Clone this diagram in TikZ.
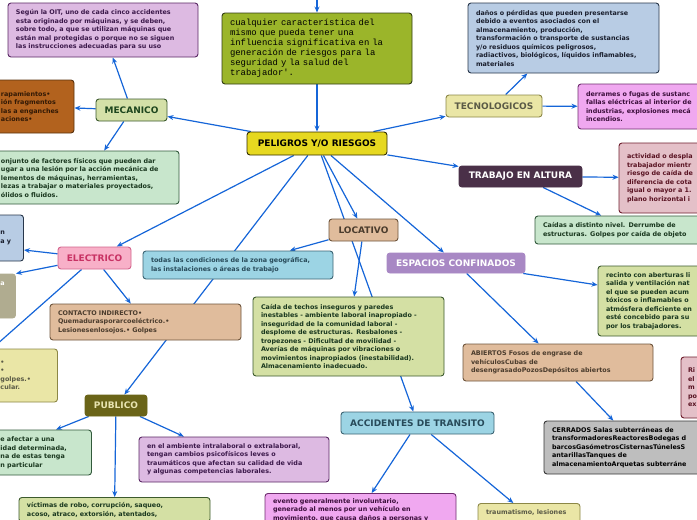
\documentclass[tikz,border=0pt]{standalone}
\usepackage{fontspec}
\setmainfont{DejaVu Sans}
\setmonofont{Liberation Mono}
\usepackage{tikz}
\usetikzlibrary{backgrounds,arrows.meta}
\definecolor{linkblue}{RGB}{21,101,216}
\definecolor{oitfill}{RGB}{221,186,226}
\definecolor{oitdraw}{RGB}{90,40,100}
\definecolor{oittext}{RGB}{60,25,75}
\definecolor{olivefill}{RGB}{155,181,42}
\definecolor{olivedraw}{RGB}{50,60,20}
\definecolor{brownfill}{RGB}{178,98,30}
\definecolor{browndraw}{RGB}{90,50,15}
\definecolor{browntext}{RGB}{50,25,5}
\definecolor{mecfill}{RGB}{212,224,168}
\definecolor{mecdraw}{RGB}{60,90,45}
\definecolor{mectext}{RGB}{30,70,30}
\definecolor{mintfill}{RGB}{200,230,204}
\definecolor{mintdraw}{RGB}{50,90,60}
\definecolor{minttext}{RGB}{25,55,30}
\definecolor{pelfill}{RGB}{230,216,32}
\definecolor{peldraw}{RGB}{50,45,0}
\definecolor{bluefill}{RGB}{184,204,228}
\definecolor{bluedraw}{RGB}{40,55,75}
\definecolor{bluetext}{RGB}{25,30,45}
\definecolor{tecfill}{RGB}{234,230,166}
\definecolor{tecdraw}{RGB}{140,135,70}
\definecolor{tectext}{RGB}{90,90,70}
\definecolor{pinkfill}{RGB}{240,168,240}
\definecolor{pinkdraw}{RGB}{110,45,110}
\definecolor{pinktext}{RGB}{60,15,60}
\definecolor{altfill}{RGB}{74,48,72}
\definecolor{rosefill}{RGB}{228,192,200}
\definecolor{rosedraw}{RGB}{110,30,45}
\definecolor{rosetext}{RGB}{90,20,35}
\definecolor{grayfill}{RGB}{176,172,144}
\definecolor{elefill}{RGB}{248,176,200}
\definecolor{eledraw}{RGB}{210,100,140}
\definecolor{eletext}{RGB}{200,50,100}
\definecolor{tanfill}{RGB}{224,188,156}
\definecolor{tandraw}{RGB}{110,85,60}
\definecolor{tantext}{RGB}{75,60,45}
\definecolor{skyfill}{RGB}{156,212,228}
\definecolor{skydraw}{RGB}{60,100,115}
\definecolor{skytext}{RGB}{40,75,90}
\definecolor{sagefill}{RGB}{212,224,164}
\definecolor{purpfill}{RGB}{168,136,196}
\definecolor{cerrfill}{RGB}{190,190,190}
\definecolor{cerrdraw}{RGB}{55,55,55}
\definecolor{pubfill}{RGB}{106,100,24}
\definecolor{pubtext}{RGB}{232,228,176}

\begin{document}
\begin{tikzpicture}[x=1pt,y=-1pt,>={Stealth[length=6pt,width=5pt]}]
	\tikzstyle{box}=[draw,rounded corners=3pt,line width=0.9pt,align=left,inner xsep=8pt,inner ysep=3pt,font=\bfseries\fontsize{6.4}{8.5}\selectfont];
	\tikzstyle{topic}=[draw,rounded corners=3pt,line width=0.9pt,inner sep=0pt,font=\bfseries\fontsize{9}{10}\selectfont];
	\tikzstyle{link}=[->,line width=1.2pt,linkblue];
	\useasboundingbox (0,0) rectangle (697,520);
	\node[topic,fill=pelfill,draw=peldraw,minimum width=140pt,minimum height=23pt] (peligros) at (317,143.5) {PELIGROS Y/O RIESGOS};
	\node[box,fill=olivefill,draw=olivedraw,text width=174pt,minimum height=71pt,font=\ttfamily\fontsize{8.9}{10}\selectfont] (olive) at (317,48.5) {cualquier característica del\\mismo que pueda tener una\\influencia significativa en la\\generación de riesgos para la\\seguridad y la salud del\\trabajador'.};
	\coordinate (topin) at (317,-5);
	\node[topic,fill=mecfill,draw=mecdraw,text=mectext,minimum width=71pt,minimum height=22pt] (mecanico) at (131.5,110) {MECANICO};
	\node[box,fill=oitfill,draw=oitdraw,text=oittext,text width=174pt,minimum height=54pt] (oit) at (103,30) {Según la OIT, uno de cada cinco accidentes\\esta originado por máquinas, y se deben,\\sobre todo, a que se utilizan máquinas que\\están mal protegidas o porque no se siguen\\las instrucciones adecuadas para su uso};
	\node[box,fill=brownfill,draw=browndraw,text=browntext,text width=65pt,minimum height=53pt] (brownL) at (33.5,106.5) {rapamientos•\\ión fragmentos\\las a enganches\\aciones•};
	\node[box,fill=mintfill,draw=mintdraw,text=minttext,text width=170pt,minimum height=53pt] (conjunto) at (86,177.5) {onjunto de factores físicos que pueden dar\\ugar a una lesión por la acción mecánica de\\lementos de máquinas, herramientas,\\lezas a trabajar o materiales proyectados,\\ólidos o fluidos.};
	\node[topic,fill=tecfill,draw=tecdraw,text=tectext,minimum width=96pt,minimum height=22pt] (tecno) at (494,106) {TECNOLOGICOS};
	\node[box,fill=bluefill,draw=bluedraw,text=bluetext,text width=175pt,minimum height=70pt] (danos) at (563.5,38) {daños o pérdidas que pueden presentarse\\debido a eventos asociados con el\\almacenamiento, producción,\\transformación o transporte de sustancias\\y/o residuos químicos peligrosos,\\radiactivos, biológicos, líquidos inflamables,\\materiales};
	\node[box,fill=pinkfill,draw=pinkdraw,text=pinktext,text width=175pt,minimum height=45pt] (derrames) at (673.5,106.5) {derrames o fugas de sustanc\\fallas eléctricas al interior de\\industrias, explosiones mecá\\incendios.};
	\node[topic,fill=altfill,draw=altfill,text=white,minimum width=123pt,minimum height=21pt] (altura) at (520.5,176.5) {TRABAJO EN ALTURA};
	\node[box,fill=rosefill,draw=rosedraw,text=rosetext,text width=174pt,minimum height=70pt] (actividad) at (714,178) {actividad o despla\\trabajador mientr\\riesgo de caída de\\diferencia de cota\\igual o mayor a 1.\\plano horizontal i};
	\node[box,fill=mintfill,draw=mintdraw,text=minttext,text width=176pt,minimum height=28pt] (caidas) at (631,230) {Caídas a distinto nivel. Derrumbe de\\estructuras. Golpes por caída de objeto};
	\node[topic,fill=elefill,draw=eledraw,text=eletext,minimum width=73pt,minimum height=22pt] (electrico) at (94.5,258) {ELECTRICO};
	\node[box,fill=bluefill,draw=bluedraw,text=bluetext,text width=15pt,minimum height=46pt] (blueL) at (8,238) {n\\a y};
	\node[box,fill=grayfill,draw=grayfill,text=white,text width=7pt,minimum height=44pt] (grayL) at (4,296) {a\\~\\~\\~};
	\node[box,fill=tecfill,draw=tecdraw,text=tectext,text width=49pt,minimum height=53pt] (yellowL) at (25,375.5) {•\\•\\golpes.•\\cular.};
	\node[box,fill=tanfill,draw=tandraw,text=tantext,text width=175pt,minimum height=36pt] (contacto) at (145.5,322) {CONTACTO INDIRECTO•\\Quemadurasporarcoeléctrico.•\\Lesionesenlosojos.• Golpes};
	\node[topic,fill=tanfill,draw=tandraw,text=tantext,minimum width=69pt,minimum height=22pt] (locativo) at (363.5,230) {LOCATIVO};
	\node[box,fill=skyfill,draw=skydraw,text=skytext,text width=174pt,minimum height=28pt] (todas) at (238,265) {todas las condiciones de la zona geográfica,\\las instalaciones o áreas de trabajo};
	\node[box,fill=sagefill,draw=mecdraw,text=minttext,text width=175pt,minimum height=79pt] (calda) at (348.5,336.5) {Caída de techos inseguros y paredes\\inestables - ambiente laboral inapropiado -\\inseguridad de la comunidad laboral -\\desplome de estructuras. Resbalones -\\tropezones - Dificultad de movilidad -\\Averías de máquinas por vibraciones o\\movimientos inapropiados (inestabilidad).\\Almacenamiento inadecuado.};
	\node[topic,fill=purpfill,draw=purpfill,text=white,minimum width=138pt,minimum height=20pt] (espacios) at (456,263) {ESPACIOS CONFINADOS};
	\node[box,fill=sagefill,draw=mecdraw,text=minttext,text width=190pt,minimum height=70pt] (recinto) at (701,301) {recinto con aberturas li\\salida y ventilación nat\\el que se pueden acum\\tóxicos o inflamables o\\atmósfera deficiente en\\esté concebido para su\\por los trabajadores.};
	\node[box,fill=tanfill,draw=tandraw,text=tantext,text width=174pt,minimum height=37pt] (abiertos) at (558,362.5) {ABIERTOS Fosos de engrase de\\vehículosCubas de\\desengrasadoPozosDepósitos abiertos};
	\node[box,fill=rosefill,draw=rosedraw,text=rosetext,inner xsep=7pt,text width=175pt,minimum height=61pt] (rboxR) at (775.5,387.5) {Ri\\el\\m\\po\\ex};
	\node[box,fill=cerrfill,draw=cerrdraw,text=black,text width=174pt,minimum height=53pt] (cerrados) at (639,447.5) {CERRADOS Salas subterráneas de\\transformadoresReactoresBodegas d\\barcosGasómetrosCisternasTúnelesS\\antarillasTanques de\\almacenamientoArquetas subterráne};
	\node[topic,fill=pubfill,draw=pubfill,text=pubtext,minimum width=62pt,minimum height=21pt] (publico) at (116,405.5) {PUBLICO};
	\node[box,fill=mintfill,draw=mintdraw,text=minttext,text width=83pt,minimum height=45pt] (pubL) at (42,452.5) {e afectar a una\\idad determinada,\\na de estas tenga\\n particular};
	\node[box,fill=oitfill,draw=oitdraw,text=oittext,text width=174pt,minimum height=45pt] (ambiente) at (234,459.5) {en el ambiente intralaboral o extralaboral,\\tengan cambios psicofísicos leves o\\traumáticos que afectan su calidad de vida\\y algunas competencias laborales.};
	\node[box,fill=sagefill,draw=mecdraw,text=minttext,text width=175pt,anchor=north,inner ysep=5pt] (victimas) at (114.5,497) {víctimas de robo, corrupción, saqueo,\\acoso, atraco, extorsión, atentados,};
	\node[topic,fill=skyfill,draw=skydraw,text=skytext,minimum width=153pt,minimum height=22pt] (accidentes) at (417.5,423) {ACCIDENTES DE TRANSITO};
	\node[box,fill=pinkfill,draw=pinkdraw,text=pinktext,text width=175pt,anchor=north,inner ysep=5pt] (evento) at (360.5,493) {evento generalmente involuntario,\\generado al menos por un vehículo en\\movimiento, que causa daños a personas y};
	\node[box,fill=tecfill,draw=tecdraw,text=tectext,text width=86pt,anchor=north,inner ysep=6pt] (trauma) at (529,503) {traumatismo, lesiones\\~};
	\begin{scope}[on background layer]
		\draw[link] (topin) -- (olive);
		\draw[link] (olive) -- (peligros);
		\draw[link] (peligros) -- (mecanico);
		\draw[link] (peligros) -- (tecno);
		\draw[link] (peligros) -- (altura);
		\draw[link] (peligros) -- (electrico);
		\draw[link] (peligros) -- (publico);
		\draw[link] (peligros) -- (locativo);
		\draw[link] (peligros) -- (accidentes);
		\draw[link] (peligros) -- (espacios);
		\draw[link] (mecanico) -- (oit);
		\draw[link] (mecanico) -- (brownL);
		\draw[link] (mecanico) -- (conjunto);
		\draw[link] (tecno) -- (danos);
		\draw[link] (tecno) -- (derrames);
		\draw[link] (altura) -- (actividad);
		\draw[link] (altura) -- (caidas);
		\draw[link] (electrico) -- ([yshift=-12pt]blueL.east);
		\draw[link] (electrico) -- (grayL.north east);
		\draw[link] (electrico) -- (yellowL.north west);
		\draw[link] (electrico) -- (contacto);
		\draw[link] (locativo) -- (todas);
		\draw[link] (locativo) -- (calda);
		\draw[link] (espacios) -- (recinto);
		\draw[link] (espacios) -- (abiertos);
		\draw[link] (abiertos) -- (cerrados);
		\draw[link] (publico) -- ([xshift=14pt]pubL.north);
		\draw[link] (publico) -- (ambiente);
		\draw[link] (publico) -- (victimas);
		\draw[link] (accidentes) -- (evento);
		\draw[link] (accidentes) -- (trauma);
	\end{scope}
\end{tikzpicture}
\end{document}
